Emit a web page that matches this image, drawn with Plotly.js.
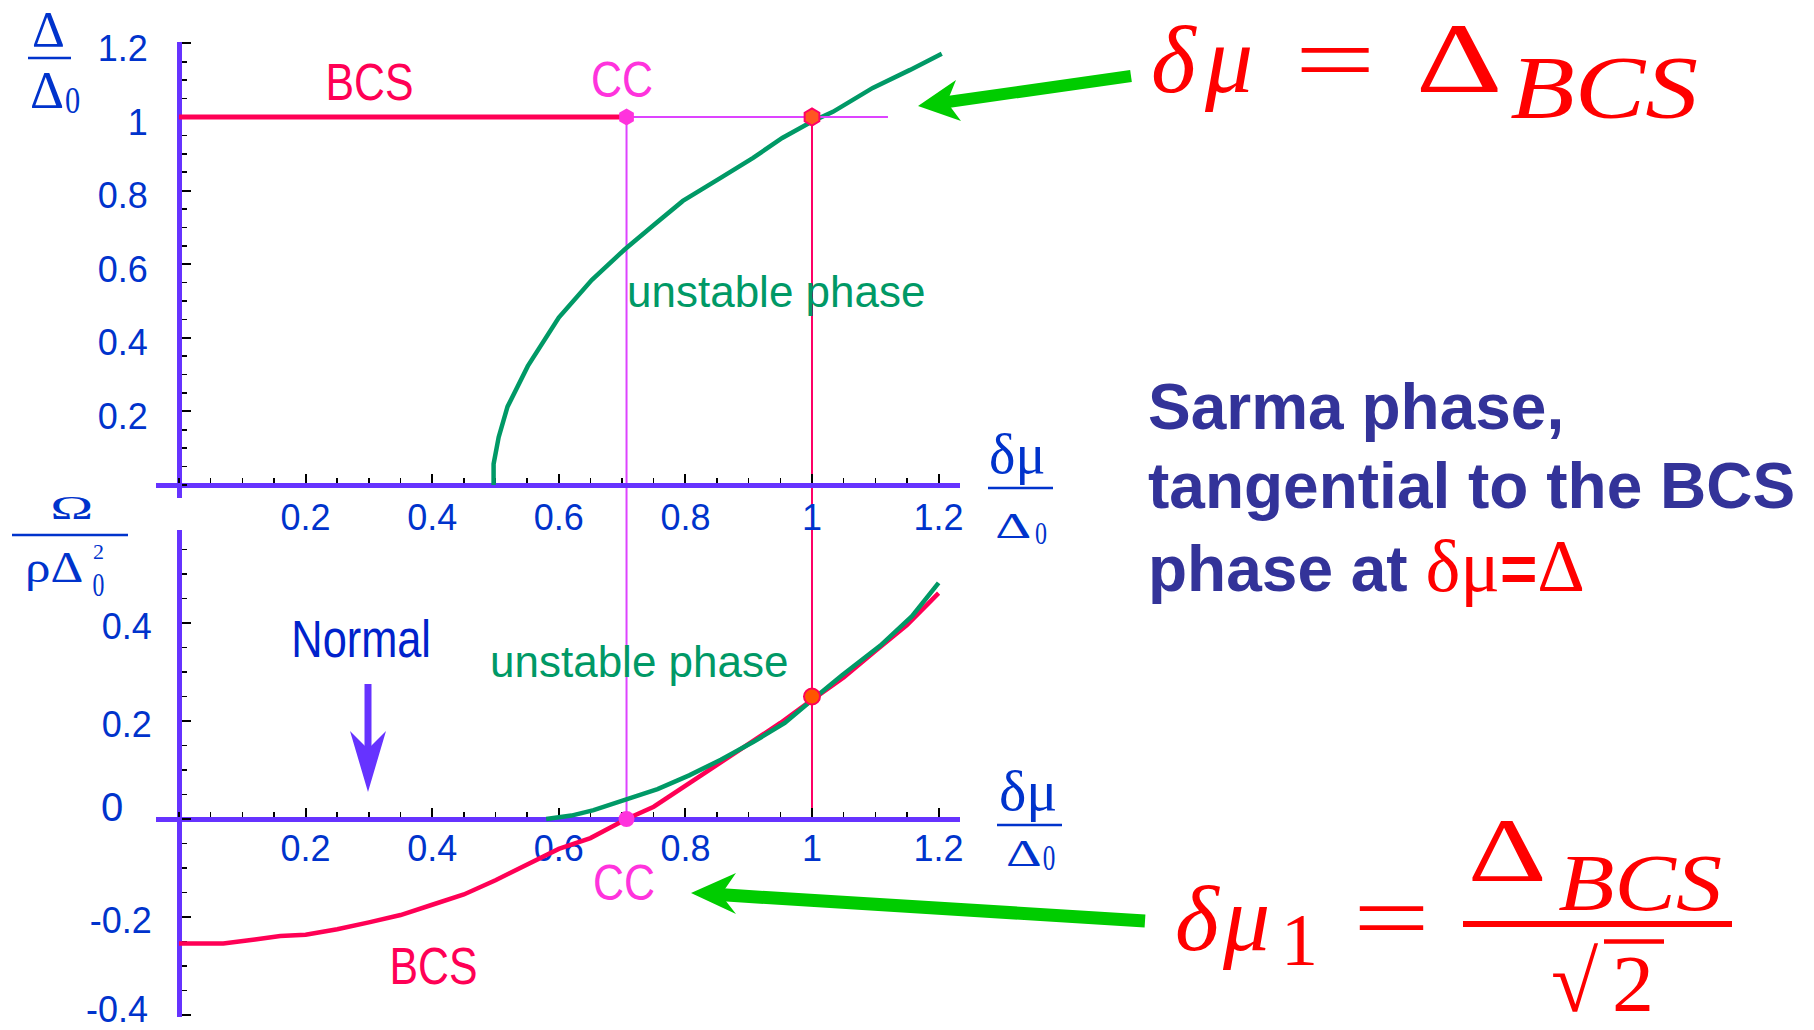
<!DOCTYPE html>
<html>
<head>
<meta charset="utf-8">
<script src="https://cdn.plot.ly/plotly-3.0.1.min.js"></script>
<style>
  html, body { margin: 0; padding: 0; background: #ffffff; }
  #chart { width: 1814px; height: 1030px; }
</style>
</head>
<body>
<div id="chart"></div>
<script>
// ---------------- data ----------------
// Upper panel: gap Δ/Δ0 versus δμ/Δ0
const bcsGapX = [0, 0.707];
const bcsGapY = [1, 1];
const ccLineX = [0.707, 1.12];
const ccLineY = [1, 1];
const sarmaGapX = [0.497, 0.497, 0.505, 0.519, 0.551, 0.600, 0.652, 0.704, 0.751, 0.796, 0.855, 0.907, 0.953, 1.000, 1.033, 1.096, 1.155, 1.205];
const sarmaGapY = [0, 0.057, 0.130, 0.213, 0.323, 0.455, 0.557, 0.640, 0.708, 0.772, 0.834, 0.889, 0.943, 0.988, 1.014, 1.079, 1.128, 1.172];
const ccGapX = [0.707];
const ccGapY = [1];
const tangentGapX = [1];
const tangentGapY = [1];

// Lower panel: grand potential Ω/(ρΔ0²) versus δμ/Δ0
const bcsOmegaX = [0, 0.07, 0.12, 0.16, 0.20, 0.25, 0.30, 0.35, 0.40, 0.45, 0.50, 0.55, 0.60, 0.65, 0.707, 0.75, 0.80, 0.85, 0.90, 0.95, 1.00, 1.05, 1.10, 1.15, 1.20];
const bcsOmegaY = [-0.254, -0.254, -0.246, -0.239, -0.236, -0.225, -0.211, -0.196, -0.175, -0.154, -0.125, -0.093, -0.061, -0.039, 0, 0.025, 0.068, 0.111, 0.154, 0.196, 0.243, 0.289, 0.343, 0.396, 0.461];
const sarmaOmegaX = [0.58, 0.62, 0.655, 0.711, 0.756, 0.806, 0.856, 0.907, 0.957, 1.00, 1.047, 1.108, 1.158, 1.20];
const sarmaOmegaY = [0, 0.007, 0.018, 0.043, 0.061, 0.089, 0.121, 0.157, 0.196, 0.243, 0.293, 0.354, 0.414, 0.482];
const ccOmegaX = [0.707];
const ccOmegaY = [0];
const tangentOmegaX = [1];
const tangentOmegaY = [0.25];

// Tick labels (the 0 and -0.4 labels of the lower panel are set as separate text below)
const muTickVals = [0.2, 0.4, 0.6, 0.8, 1, 1.2];
const muTickText = ['0.2', '0.4', '0.6', '0.8', '1', '1.2'];
const gapTickVals = [0.2, 0.4, 0.6, 0.8, 1, 1.2];
const gapTickText = ['0.2', '0.4', '0.6', '0.8', '1', '1.2'];
const omegaTickVals = [-0.4, -0.2, 0, 0.2, 0.4];
const omegaTickText = ['', '-0.2', '', '0.2', '0.4'];

// ---------------- geometry (pixels) ----------------
const W = 1814, H = 1030;
const ORIGIN_X = 179, UNIT_X = 633;
const TOP_ORIGIN_Y = 485, TOP_UNIT_Y = 368;
const BOT_ORIGIN_Y = 819, BOT_UNIT_Y = 490;
const xRange = [-0.037, 1.234];
const topYRange = [-0.035, 1.205];
const botYRange = [-0.405, 0.59];

const px = v => v / W;               // pixel x -> paper
const py = v => 1 - v / H;           // pixel y -> paper
const xDomain = [px(ORIGIN_X + UNIT_X * xRange[0]), px(ORIGIN_X + UNIT_X * xRange[1])];
const topYDomain = [py(TOP_ORIGIN_Y - TOP_UNIT_Y * topYRange[0]), py(TOP_ORIGIN_Y - TOP_UNIT_Y * topYRange[1])];
const botYDomain = [py(BOT_ORIGIN_Y - BOT_UNIT_Y * botYRange[0]), py(BOT_ORIGIN_Y - BOT_UNIT_Y * botYRange[1])];
const topToPaper = v => topYDomain[0] + (v - topYRange[0]) / (topYRange[1] - topYRange[0]) * (topYDomain[1] - topYDomain[0]);
const botToPaper = v => botYDomain[0] + (v - botYRange[0]) / (botYRange[1] - botYRange[0]) * (botYDomain[1] - botYDomain[0]);

// ---------------- colours & fonts ----------------
const AXIS_COLOR = '#6633ff';
const TICK_COLOR = '#0033cc';
const BCS_RED = '#ff0055';
const CC_PINK = '#ff33dd';
const GUIDE_VIOLET = '#dd44ff';
const GUIDE_RED = '#ff0066';
const SARMA_GREEN = '#009966';
const ARROW_GREEN = '#00cc00';
const FORMULA_RED = '#ff0000';
const NOTE_BLUE = '#333399';
const SANS = 'Liberation Sans, Arial, sans-serif';
const SERIF = 'Liberation Serif, Times New Roman, serif';

// ---------------- traces ----------------
const traces = [
  { x: sarmaGapX, y: sarmaGapY, xaxis: 'x', yaxis: 'y', mode: 'lines',
    line: { color: SARMA_GREEN, width: 4.5 } },
  { x: bcsGapX, y: bcsGapY, xaxis: 'x', yaxis: 'y', mode: 'lines',
    line: { color: BCS_RED, width: 5 } },
  { x: ccLineX, y: ccLineY, xaxis: 'x', yaxis: 'y', mode: 'lines',
    line: { color: GUIDE_VIOLET, width: 2 } },
  { x: ccGapX, y: ccGapY, xaxis: 'x', yaxis: 'y', mode: 'markers',
    marker: { symbol: 'hexagon', size: 17, color: CC_PINK, line: { width: 0 } } },
  { x: tangentGapX, y: tangentGapY, xaxis: 'x', yaxis: 'y', mode: 'markers',
    marker: { symbol: 'hexagon', size: 17, color: '#ff5522', line: { width: 2, color: GUIDE_RED } } },

  { x: bcsOmegaX, y: bcsOmegaY, xaxis: 'x2', yaxis: 'y2', mode: 'lines',
    line: { color: BCS_RED, width: 4.5 } },
  { x: sarmaOmegaX, y: sarmaOmegaY, xaxis: 'x2', yaxis: 'y2', mode: 'lines',
    line: { color: SARMA_GREEN, width: 4.5 } },
  { x: ccOmegaX, y: ccOmegaY, xaxis: 'x2', yaxis: 'y2', mode: 'markers',
    marker: { symbol: 'circle', size: 16, color: CC_PINK, line: { width: 0 } } },
  { x: tangentOmegaX, y: tangentOmegaY, xaxis: 'x2', yaxis: 'y2', mode: 'markers',
    marker: { symbol: 'circle', size: 16, color: '#ff5500', line: { width: 2, color: BCS_RED } } }
];

// ---------------- axes ----------------
function axis(extra) {
  return Object.assign({
    anchor: 'free', showline: true, linecolor: AXIS_COLOR, linewidth: 5,
    showgrid: false, zeroline: false, tickmode: 'array',
    ticks: 'inside', ticklen: 9, tickwidth: 2, tickcolor: '#000000',
    minor: { tickmode: 'linear', tick0: 0, dtick: 0.05, ticks: 'inside', ticklen: 5,
             tickwidth: 1.5, tickcolor: '#000000', showgrid: false },
    tickfont: { family: SANS, size: 36, color: TICK_COLOR },
    ticklabeloverflow: 'allow',
    layer: 'below traces', fixedrange: true, automargin: false
  }, extra);
}

// ---------------- text labels ----------------
const annotations = [];
const stretch = [];
function label(text, x, y, font, opts) {
  opts = opts || {};
  annotations.push(Object.assign({
    text: text, x: px(x), y: py(y), xref: 'paper', yref: 'paper',
    xanchor: 'center', yanchor: 'middle', showarrow: false, font: font
  }, opts.ann || {}));
  stretch.push(opts.sx || 1);
}
const f = (family, size, color, extra) => Object.assign({ family: family, size: size, color: color }, extra || {});

// curve labels
label('BCS', 369, 82, f(SANS, 51, BCS_RED), { sx: 0.84 });
label('CC', 622, 80, f(SANS, 50, CC_PINK), { sx: 0.86 });
label('unstable phase', 776, 292, f(SANS, 44, SARMA_GREEN));
label('unstable phase', 639, 661, f(SANS, 44, SARMA_GREEN));
label('Normal', 361, 639, f(SANS, 51, '#0022cc'), { sx: 0.85 });
label('CC', 624, 883, f(SANS, 50, CC_PINK), { sx: 0.86 });
label('BCS', 433, 966, f(SANS, 51, BCS_RED), { sx: 0.84 });
label('0', 112, 807, f(SANS, 40, TICK_COLOR));
label('-0.4', 150, 1009, f(SANS, 36, TICK_COLOR), { ann: { xanchor: 'right' } });

// axis titles (stacked fractions)
label('Δ', 48.5, 29, f(SERIF, 51, TICK_COLOR));
label('Δ', 46.5, 90, f(SERIF, 53, TICK_COLOR));
label('0', 72.5, 100, f(SERIF, 38, TICK_COLOR), { sx: 0.8 });
label('Ω', 71, 507, f(SERIF, 34, TICK_COLOR), { sx: 1.7 });
label('ρΔ', 53.5, 567, f(SERIF, 44, TICK_COLOR), { sx: 1.16 });
label('2', 98, 551, f(SERIF, 22, TICK_COLOR));
label('0', 98, 584, f(SERIF, 34, TICK_COLOR), { sx: 0.7 });
label('δμ', 1016.5, 454, f(SERIF, 56, TICK_COLOR));
label('Δ', 1013, 526, f(SERIF, 35, TICK_COLOR), { sx: 1.6 });
label('0', 1041, 533, f(SERIF, 32, TICK_COLOR), { sx: 0.75 });
label('δμ', 1027.5, 790, f(SERIF, 58, TICK_COLOR));
label('Δ', 1023.5, 853, f(SERIF, 37, TICK_COLOR), { sx: 1.5 });
label('0', 1049, 858, f(SERIF, 36, TICK_COLOR), { sx: 0.7 });

// formula δμ = Δ_BCS
label('δ', 1174, 60, f(SERIF, 96, FORMULA_RED, { style: 'italic' }));
label('μ', 1228, 60, f(SERIF, 96, FORMULA_RED, { style: 'italic' }));
label('=', 1334.5, 60, f(SERIF, 96, FORMULA_RED), { sx: 1.5 });
label('Δ', 1459, 58, f(SERIF, 100, FORMULA_RED), { sx: 1.35 });
label('BCS', 1603.5, 87, f(SERIF, 88, FORMULA_RED, { style: 'italic' }), { sx: 1.2 });

// formula δμ1 = Δ_BCS / √2
label('δ', 1197.5, 918, f(SERIF, 94, FORMULA_RED, { style: 'italic' }));
label('μ', 1246, 918, f(SERIF, 94, FORMULA_RED, { style: 'italic' }));
label('1', 1299, 940, f(SERIF, 74, FORMULA_RED));
label('=', 1391, 917, f(SERIF, 94, FORMULA_RED), { sx: 1.45 });
label('Δ', 1507.5, 850, f(SERIF, 91, FORMULA_RED), { sx: 1.35 });
label('BCS', 1640, 883, f(SERIF, 80, FORMULA_RED, { style: 'italic' }), { sx: 1.15 });
label('√', 1575, 982, f(SERIF, 86, FORMULA_RED), { sx: 1.0 });
label('2', 1633, 984, f(SERIF, 80, FORMULA_RED), { sx: 1.05 });

// note
const noteFont = f(SANS, 64, NOTE_BLUE, { weight: 'bold' });
const red = 'color:#ff0000;font-family:\'Liberation Serif\';font-weight:normal;font-size:74px';
label('Sarma phase,', 1146, 407, noteFont, { ann: { xanchor: 'left' } });
label('tangential to the BCS', 1146, 486, noteFont, { ann: { xanchor: 'left' } });
label('phase at <span style="' + red + '">δμ</span>' +
      '<span style="color:#ff0000">=</span>' +
      '<span style="' + red + '">Δ</span>',
      1146, 566, noteFont, { ann: { xanchor: 'left' } });

// ---------------- shapes ----------------
const P = (x, y) => px(x) + ',' + py(y);
function arrowHead(tip, b1, notch, b2, color) {
  return { type: 'path', xref: 'paper', yref: 'paper', layer: 'above',
           path: 'M' + P(tip[0], tip[1]) + 'L' + P(b1[0], b1[1]) + 'L' + P(notch[0], notch[1]) +
                 'L' + P(b2[0], b2[1]) + 'Z',
           fillcolor: color, line: { width: 0 } };
}
function stroke(x0, y0, x1, y1, color, width) {
  return { type: 'line', xref: 'paper', yref: 'paper', layer: 'above',
           x0: px(x0), y0: py(y0), x1: px(x1), y1: py(y1), line: { color: color, width: width } };
}

const shapes = [
  // guides from the CC point and the tangency point down to the lower axis
  { type: 'line', xref: 'x', yref: 'paper', layer: 'below',
    x0: ccGapX[0], x1: ccOmegaX[0], y0: topToPaper(ccGapY[0]), y1: botToPaper(ccOmegaY[0]),
    line: { color: GUIDE_VIOLET, width: 2 } },
  { type: 'line', xref: 'x', yref: 'paper', layer: 'below',
    x0: tangentGapX[0], x1: tangentOmegaX[0], y0: topToPaper(tangentGapY[0]), y1: botToPaper(0),
    line: { color: GUIDE_RED, width: 2 } },

  // fraction bars of the axis titles
  stroke(28, 58, 71, 58, TICK_COLOR, 2.5),
  stroke(12, 535, 128, 535, TICK_COLOR, 2.5),
  stroke(988, 488, 1053, 488, TICK_COLOR, 2.5),
  stroke(997, 825, 1062, 825, TICK_COLOR, 2.5),

  // formula rules
  stroke(1463, 924, 1732, 924, FORMULA_RED, 6),
  stroke(1604, 941.5, 1664, 941.5, FORMULA_RED, 4.5),

  // green pointer arrows
  stroke(1131, 76, 946, 102.3, ARROW_GREEN, 12),
  arrowHead([918, 106], [956, 80], [947, 102.3], [961, 121], ARROW_GREEN),
  stroke(1145, 921, 719, 894.6, ARROW_GREEN, 13),
  arrowHead([691, 893], [736, 873], [721, 894.7], [736, 914], ARROW_GREEN),

  // arrow under "Normal"
  stroke(368, 684, 368, 752, AXIS_COLOR, 7),
  arrowHead([368, 792], [350, 731], [368, 749], [386, 731], AXIS_COLOR)
];

// ---------------- layout ----------------
const layout = {
  width: W, height: H,
  margin: { l: 0, r: 0, t: 0, b: 0, pad: 0 },
  paper_bgcolor: '#ffffff', plot_bgcolor: 'rgba(0,0,0,0)',
  showlegend: false,
  font: { family: SANS, color: TICK_COLOR },
  xaxis: axis({ domain: xDomain, range: xRange, position: py(TOP_ORIGIN_Y),
                tickvals: muTickVals, ticktext: muTickText, ticklabelstandoff: -1 }),
  yaxis: axis({ domain: topYDomain, range: topYRange, position: px(ORIGIN_X),
                tickvals: gapTickVals, ticktext: gapTickText, ticklabelstandoff: 22, ticklabelshift: 5 }),
  xaxis2: axis({ domain: xDomain, range: xRange, position: py(BOT_ORIGIN_Y),
                 tickvals: muTickVals, ticktext: muTickText, ticklabelstandoff: -4 }),
  yaxis2: axis({ domain: botYDomain, range: botYRange, position: px(ORIGIN_X),
                 tickvals: omegaTickVals, ticktext: omegaTickText, ticklabelstandoff: 18, ticklabelshift: 3 }),
  annotations: annotations,
  shapes: shapes
};

Plotly.newPlot('chart', traces, layout, { staticPlot: true, displayModeBar: false }).then(function (gd) {
  // widen or narrow individual glyph groups about their own centre
  gd.querySelectorAll('g.annotation').forEach(function (g) {
    const s = stretch[+g.getAttribute('data-index')];
    if (s && s !== 1) {
      const t = g.querySelector('text');
      if (t) {
        t.style.transformBox = 'fill-box';
        t.style.transformOrigin = 'center';
        t.style.transform = 'scaleX(' + s + ')';
      }
    }
  });
});
</script>
</body>
</html>
